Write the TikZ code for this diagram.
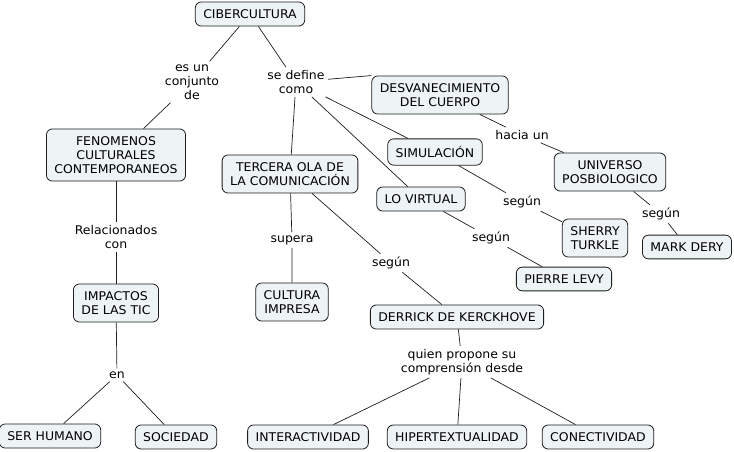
\documentclass[tikz,border=0pt]{standalone}
\usepackage{fontspec}
\setmainfont[FakeStretch=1.04]{DejaVu Sans}
\definecolor{boxfill}{RGB}{238,243,246}
\definecolor{boxline}{RGB}{30,30,30}
\begin{document}
\begin{tikzpicture}[x=1pt,y=-1pt,
  concept/.style={draw=boxline,fill=boxfill,rounded corners=6pt,line width=0.8pt,
    align=center,inner xsep=8pt,inner ysep=7.5pt,font=\fontsize{12}{14}\selectfont},
  linklabel/.style={align=center,inner sep=3pt,font=\fontsize{12}{14}\selectfont},
  conn/.style={draw=boxline,line width=0.7pt}]
\useasboundingbox[fill=white] (0,0) rectangle (734,451);
% concepts
\node[concept] (cib) at (250,14) {CIBERCULTURA};
\node[concept] (fen) at (116,155) {FENOMENOS\\CULTURALES\\CONTEMPORANEOS};
\node[concept] (ter) at (290,174) {TERCERA OLA DE\\LA COMUNICACIÓN};
\node[concept] (des) at (440,95) {DESVANECIMIENTO\\DEL CUERPO};
\node[concept] (sim) at (435,152) {SIMULACIÓN};
\node[concept] (vir) at (421,199) {LO VIRTUAL};
\node[concept] (uni) at (610,172) {UNIVERSO\\POSBIOLOGICO};
\node[concept] (she) at (595,238) {SHERRY\\TURKLE};
\node[concept] (mar) at (687,247) {MARK DERY};
\node[concept] (pie) at (564,279) {PIERRE LEVY};
\node[concept] (imp) at (116,303) {IMPACTOS\\DE LAS TIC};
\node[concept] (cul) at (292,302) {CULTURA\\IMPRESA};
\node[concept] (der) at (457,317) {DERRICK DE KERCKHOVE};
\node[concept] (ser) at (50,436) {SER HUMANO};
\node[concept] (soc) at (176,437) {SOCIEDAD};
\node[concept] (int) at (308,437) {INTERACTIVIDAD};
\node[concept] (hip) at (457,437) {HIPERTEXTUALIDAD};
\node[concept] (con) at (598,437) {CONECTIVIDAD};
% link labels
\node[linklabel] (l1) at (192,82) {es un\\conjunto\\de};
\node[linklabel] (l2) at (296,82) {se define\\como};
\node[linklabel] (l3) at (522,135) {hacia un};
\node[linklabel] (l4) at (522,202) {según};
\node[linklabel] (l5) at (491,238) {según};
\node[linklabel] (l6) at (661,214) {según};
\node[linklabel] (l7) at (391,263) {según};
\node[linklabel] (l8) at (292,240) {supera};
\node[linklabel] (l9) at (116,237) {Relacionados\\con};
\node[linklabel] (l10) at (117,375) {en};
\node[linklabel] (l11) at (462,362) {quien propone su\\comprensión desde};
% connectors
\path[conn] (cib) -- (l1) (l1) -- (fen);
\path[conn] (cib) -- (l2);
\path[conn] (l2) -- (des.north west);
\path[conn] (l2) -- (sim);
\path[conn] (l2) -- (vir);
\path[conn] (l2) -- (ter);
\path[conn] (des) -- (l3) (l3) -- (uni);
\path[conn] (sim) -- (l4) (l4) -- (she);
\path[conn] (vir) -- (l5) (l5) -- (pie);
\path[conn] (uni) -- (l6) (l6) -- (mar);
\path[conn] (ter) -- (l7) (l7) -- (der);
\path[conn] (ter) -- (l8) (l8) -- (cul);
\path[conn] (fen) -- (l9) (l9) -- (imp);
\path[conn] (imp) -- (l10) (l10) -- (ser) (l10) -- (soc);
\path[conn] (der) -- (l11) (l11) -- (int) (l11) -- (hip) (l11) -- (con);
\end{tikzpicture}
\end{document}
